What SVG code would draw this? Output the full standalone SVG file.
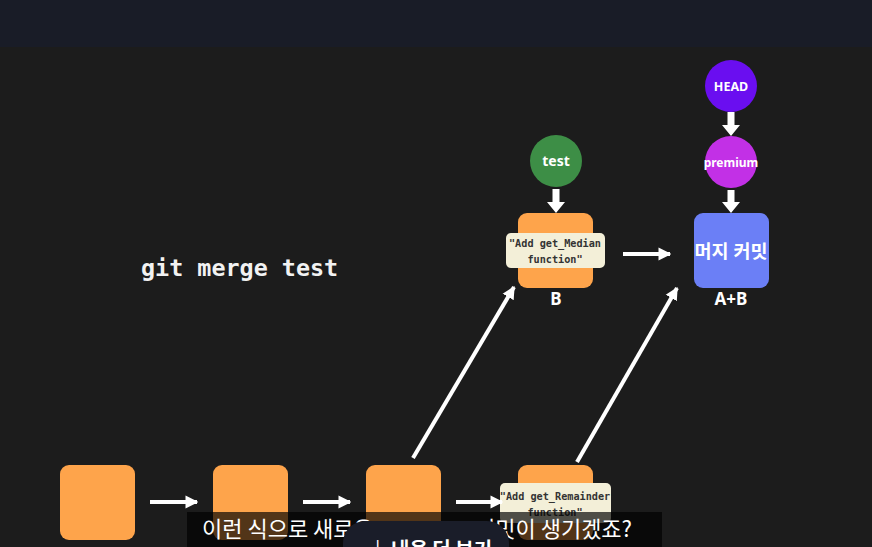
<svg xmlns="http://www.w3.org/2000/svg" width="872" height="547" viewBox="0 0 872 547">
<defs>
<marker id="ah" viewBox="0 0 10 10" refX="9" refY="5" markerWidth="3.2" markerHeight="3.4" orient="auto" markerUnits="strokeWidth">
<path d="M0,0 L10,5 L0,10 Z" fill="#ffffff"/>
</marker>
<style>
.sq{fill:#fea44b}
.lbl{fill:#f3efd8}
.mono{font-family:"DejaVu Sans Mono","Liberation Mono",monospace;font-weight:bold;font-size:10.2px;fill:#333333;text-anchor:middle}
.nt{font-family:"Noto Sans","Noto Sans CJK KR",sans-serif;font-weight:bold;fill:#ffffff;text-anchor:middle}
.cap{font-family:"Noto Sans","Noto Sans CJK KR",sans-serif;font-weight:bold;font-size:17px;fill:#ffffff;text-anchor:middle}
.con{stroke:#ffffff;stroke-width:4;fill:none}
.dn{fill:#ffffff}
.sub{font-family:"Noto Sans CJK KR","Noto Sans",sans-serif;font-size:22px;fill:#ffffff}
</style>
</defs>
<rect x="0" y="0" width="872" height="547" fill="#1c1c1c"/>
<rect x="0" y="0" width="872" height="47" fill="#191c27"/>

<text x="141" y="276" font-family="DejaVu Sans Mono,Liberation Mono,monospace" font-weight="bold" font-size="23.4" fill="#f2f2f2">git merge test</text>

<g id="c1"><rect class="sq" x="60" y="465" width="75" height="75" rx="9"/></g>
<g id="c2"><rect class="sq" x="213" y="465" width="75" height="75" rx="9"/></g>
<g id="c3"><rect class="sq" x="366" y="465" width="75" height="75" rx="9"/></g>
<g id="c4">
<rect class="sq" x="518" y="465" width="75" height="75" rx="9"/>
<rect class="lbl" x="500" y="483" width="111" height="40" rx="5"/>
<text class="mono" x="555" y="500">"Add get_Remainder</text>
<text class="mono" x="555" y="516">function"</text>
</g>
<g id="cB">
<rect class="sq" x="518" y="213" width="75" height="75" rx="9"/>
<rect class="lbl" x="506" y="233" width="99" height="35" rx="5"/>
<text class="mono" x="555" y="247">"Add get_Median</text>
<text class="mono" x="555" y="263">function"</text>
<text class="cap" x="556" y="305">B</text>
</g>
<g id="test">
<circle cx="556" cy="161" r="26" fill="#3d8e46"/>
<text class="nt" x="556" y="166" font-size="14">test</text>
</g>
<g id="head">
<circle cx="731" cy="86" r="26" fill="#6a0ef0"/>
<text class="nt" x="731" y="90.5" font-size="12.5">HEAD</text>
</g>
<g id="premium">
<circle cx="731" cy="162" r="26" fill="#c230e6"/>
<text class="nt" x="731" y="166.5" font-size="12">premium</text>
</g>
<g id="merge">
<rect x="694" y="213" width="75" height="75" rx="9" fill="#6b7ff6"/>
<text class="nt" x="731" y="258" font-size="18.5">머지 커밋</text>
<text class="cap" x="731" y="305">A+B</text>
</g>

<g id="connectors">
<line class="con" x1="150" y1="502" x2="197" y2="502" marker-end="url(#ah)"/>
<line class="con" x1="303" y1="502" x2="350" y2="502" marker-end="url(#ah)"/>
<line class="con" x1="456" y1="502" x2="502" y2="502" marker-end="url(#ah)"/>
<line class="con" x1="623" y1="254" x2="670" y2="254" marker-end="url(#ah)"/>
<line class="con" x1="413" y1="458" x2="514" y2="287" marker-end="url(#ah)"/>
<line class="con" x1="577" y1="462" x2="677" y2="288" marker-end="url(#ah)"/>
<path class="dn" d="M552.5,189 h7 v13 h5.5 l-9,11 l-9,-11 h5.5 z"/>
<path class="dn" d="M727.5,112 h7 v13 h5.5 l-9,11 l-9,-11 h5.5 z"/>
<path class="dn" d="M727.5,190 h7 v12 h5.5 l-9,11 l-9,-11 h5.5 z"/>
</g>

<g id="subtitle">
<rect x="187" y="512" width="475" height="36" fill="#000000" fill-opacity="0.68"/>
<text class="sub" x="202" y="537">이런 식으로 새로운</text>
<text class="sub" x="475" y="537">커밋이 생기겠죠?</text>
</g>
<g id="more-button">
<rect x="343" y="521" width="166" height="60" rx="22" fill="#1a1d29"/>
<text x="375" y="557" font-family="Noto Sans CJK KR,Noto Sans,sans-serif" font-size="20" fill="#ffffff">|</text>
<text x="391" y="557" font-family="Noto Sans CJK KR,Noto Sans,sans-serif" font-size="20" font-weight="bold" fill="#ffffff">내용 더 보기</text>
</g>
</svg>
